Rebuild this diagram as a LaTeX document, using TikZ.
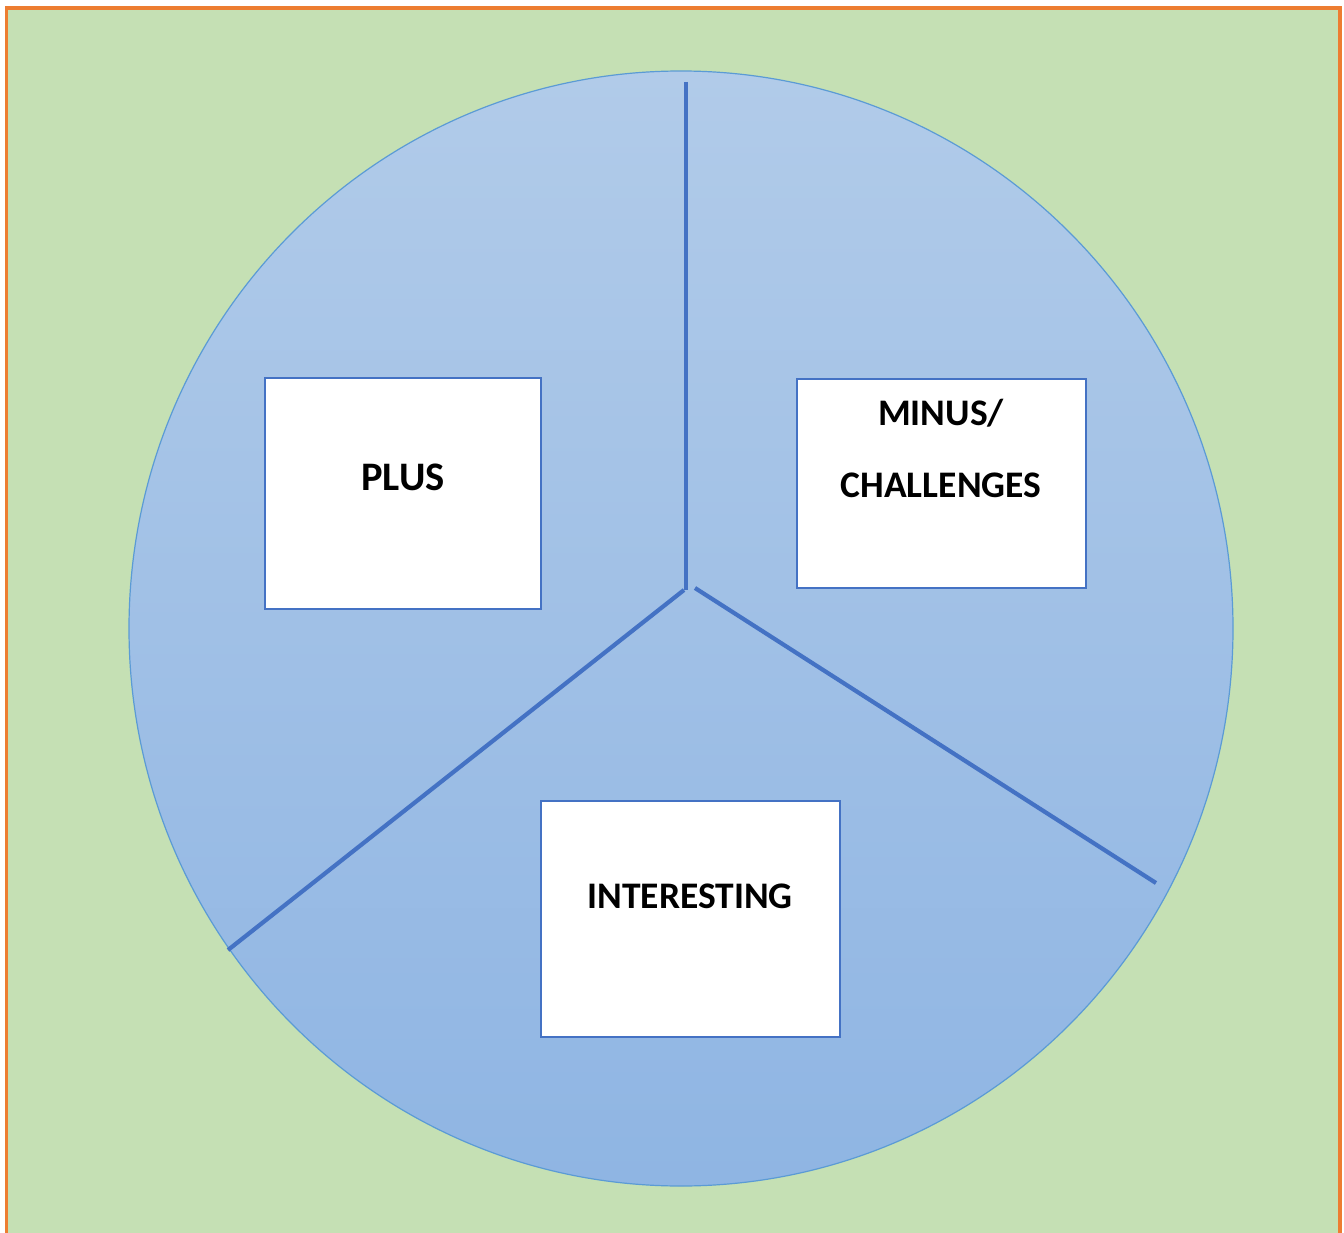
\documentclass[tikz,border=0pt]{standalone}
\usepackage{fontspec}
\setmainfont{Carlito}
\definecolor{bggreen}{HTML}{C5E0B4}
\definecolor{frameorange}{HTML}{ED7D31}
\definecolor{circtop}{HTML}{B1CBE9}
\definecolor{circbot}{HTML}{8FB5E3}
\definecolor{circedge}{HTML}{5B9BD5}
\definecolor{linkblue}{HTML}{4472C4}
\tikzset{
  box/.style={draw=linkblue, line width=2.6pt, fill=white, rectangle, inner sep=0pt},
  lbl/.style={font=\fontsize{37.5}{42}\selectfont\bfseries, text=black, inner sep=0pt},
  divider/.style={draw=linkblue, line width=4.2pt},
}
\begin{document}
\begin{tikzpicture}[x=1pt,y=-1pt]
\useasboundingbox (0,0) rectangle (1344,1233);
\fill[white] (0,0) rectangle (1344,1233);
\begin{scope}
\clip (0,0) rectangle (1344,1233);
\draw[fill=bggreen, draw=frameorange, line width=3.2pt] (6.5,8) rectangle (1340,1250);
\end{scope}
% circle
\shade[top color=circtop, bottom color=circbot] (681,628.5) ellipse [x radius=552, y radius=557.5];
\draw[circedge, line width=1.2pt] (681,628.5) ellipse [x radius=552, y radius=557.5];
% dividers
\coordinate (ctop) at (686,82);
\coordinate (cmid) at (686,590);
\coordinate (cleftstart) at (684,590);
\coordinate (cleft) at (228,950);
\coordinate (crightstart) at (695,588);
\coordinate (cright) at (1156,883);
\draw[divider] (ctop) -- (cmid);
\draw[divider] (cleftstart) -- (cleft);
\draw[divider] (crightstart) -- (cright);
% boxes
\node[box, minimum width=276pt, minimum height=231pt] (plus) at (403,493.5) {};
\node[box, minimum width=289pt, minimum height=209pt] (minus) at (941.5,483.5) {};
\node[box, minimum width=299pt, minimum height=236pt] (inter) at (690.5,919) {};
% labels
\node[lbl, font=\fontsize{40.5}{44}\selectfont\bfseries] (plust) at (403,477) {PLUS};
\node[lbl] (minust1) at (941,413) {MINUS/};
\node[lbl] (minust2) at (941,485) {CHALLENGES};
\node[lbl] (intert) at (690,896) {INTERESTING};
\end{tikzpicture}
\end{document}
